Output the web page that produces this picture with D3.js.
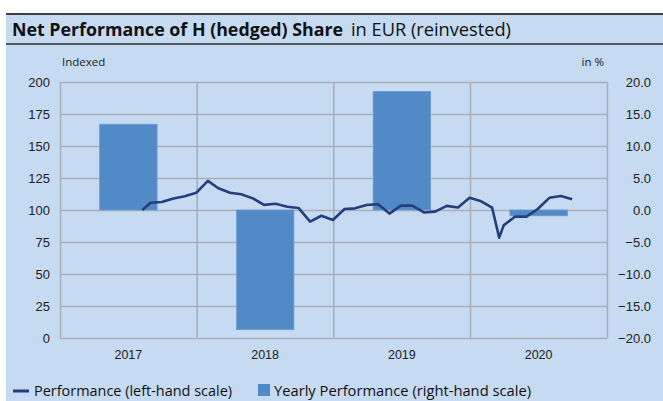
<!DOCTYPE html>
<html>
<head>
<meta charset="utf-8">
<script src="https://cdn.jsdelivr.net/npm/d3@7"></script>
<style>
  body { margin: 0; background: #fff; }
  svg { display: block; font-family: "Open Sans", "DejaVu Sans", sans-serif; }
  .graph-label { font-size: 11.5px; fill: #222; }
  .grid line { stroke: #a9afb8; stroke-width: 1.6; }
  .grid path { display: none; }
</style>
</head>
<body>
<svg></svg>
<script>
// Data
let years = ['2017', '2018', '2019', '2020']
let yearly_perf = [13.4, -18.7, 18.5, -0.9]

let perf_dates = [
  '2017-08-09', '2017-08-31', '2017-09-30', '2017-10-31', '2017-11-30', '2017-12-31',
  '2018-01-31', '2018-02-28', '2018-03-31', '2018-04-30', '2018-05-31', '2018-06-30',
  '2018-07-31', '2018-08-31', '2018-09-30', '2018-10-31', '2018-11-30', '2018-12-31',
  '2019-01-31', '2019-02-28', '2019-03-31', '2019-04-30', '2019-05-31', '2019-06-30',
  '2019-07-31', '2019-08-31', '2019-09-30', '2019-10-31', '2019-11-30', '2019-12-31',
  '2020-01-31', '2020-02-29', '2020-03-19', '2020-03-31', '2020-04-30', '2020-05-31',
  '2020-06-30', '2020-07-31', '2020-08-31', '2020-09-30'
]
let perf_values = [
  100, 105.7, 106.3, 109.0, 110.8, 113.5,
  122.8, 117.0, 113.5, 112.3, 109.1, 104.0,
  104.9, 102.6, 101.6, 90.9, 95.5, 92.2,
  100.8, 101.3, 103.9, 104.6, 97.2, 103.4,
  103.4, 98.1, 98.7, 103.2, 101.9, 109.5,
  106.8, 101.9, 78.4, 88.0, 94.8, 94.8,
  100.8, 109.5, 111.0, 108.4
]

let left_ticks = [0, 25, 50, 75, 100, 125, 150, 175, 200]
let right_ticks = [-20, -15, -10, -5, 0, 5, 10, 15, 20]

let dataset = perf_dates.map((d, i) => ({ date: new Date(d + 'T00:00:00'), value: perf_values[i] }))

// Dimensions
let width = 663
let height = 401
let plot = { left: 60, right: 607, top: 82, bottom: 338 }

let svg = d3.select('svg')
    .attr('width', width)
    .attr('height', height)

// Panel background
svg.append('rect')
    .attr('x', 6).attr('y', 13)
    .attr('width', width - 6).attr('height', height - 13)
    .attr('fill', '#c6daf1')

// Header borders
svg.append('line')
    .attr('x1', 6).attr('x2', width).attr('y1', 14).attr('y2', 14)
    .attr('stroke', '#3c3f45').attr('stroke-width', 2)
svg.append('line')
    .attr('x1', 6).attr('x2', width).attr('y1', 44).attr('y2', 44)
    .attr('stroke', '#55595f').attr('stroke-width', 2)

// Title
svg.append('text')
    .attr('x', 12).attr('y', 36)
    .attr('textLength', 331).attr('lengthAdjust', 'spacingAndGlyphs')
    .style('font-size', '18px').style('font-weight', 'bold').style('fill', '#111')
    .text('Net Performance of H (hedged) Share')
svg.append('text')
    .attr('x', 351).attr('y', 36)
    .attr('textLength', 160).attr('lengthAdjust', 'spacingAndGlyphs')
    .style('font-size', '18px').style('fill', '#111')
    .text('in EUR (reinvested)')

// Scales
let scale = {
  x: d3.scaleTime()
      .domain([new Date('2017-01-01T00:00:00'), new Date('2021-01-01T00:00:00')])
      .range([plot.left, plot.right]),
  band: d3.scaleBand()
      .domain(years)
      .range([plot.left, plot.right])
      .paddingInner(0.58)
      .paddingOuter(0.29),
  y: d3.scaleLinear().domain([0, 200]).range([plot.bottom, plot.top]),
  y2: d3.scaleLinear().domain([-20, 20]).range([plot.bottom, plot.top])
}

// Horizontal grid
svg.append('g')
    .attr('class', 'grid')
    .attr('transform', `translate(${plot.left},0)`)
    .call(d3.axisLeft(scale.y).tickValues(left_ticks).tickFormat('').tickSize(-(plot.right - plot.left)))

// Vertical grid at year boundaries
let bounds = years.map(y => new Date(+y, 0, 1)).concat([new Date(2021, 0, 1)])
svg.append('g')
    .attr('class', 'grid')
    .attr('transform', `translate(0,${plot.bottom})`)
    .call(d3.axisBottom(scale.x).tickValues(bounds).tickFormat('').tickSize(-(plot.bottom - plot.top)))

// Bars (right-hand scale)
svg.selectAll('.bar')
    .data(years)
    .enter()
    .append('rect')
    .attr('class', 'bar')
    .attr('x', d => scale.band(d))
    .attr('width', scale.band.bandwidth())
    .attr('y', (d, i) => scale.y2(Math.max(0, yearly_perf[i])))
    .attr('height', (d, i) => Math.abs(scale.y2(yearly_perf[i]) - scale.y2(0)))
    .attr('fill', '#518ac6')
    .attr('stroke', '#6b9bd0')
    .attr('stroke-width', 0.8)

// Performance line
let line = d3.line()
    .x(d => scale.x(d.date))
    .y(d => scale.y(d.value))

svg.append('path')
    .datum(dataset)
    .attr('d', line)
    .attr('fill', 'none')
    .attr('stroke', '#243f7e')
    .attr('stroke-width', 2.6)
    .attr('stroke-linejoin', 'round')

// Left axis labels
svg.append('g')
    .attr('transform', `translate(${plot.left},0)`)
    .call(d3.axisLeft(scale.y).tickValues(left_ticks).tickSize(0).tickPadding(10))
    .call(g => g.select('.domain').remove())
    .call(g => g.selectAll('text').style('font-size', '13px').attr('fill', '#222'))

// Right axis labels
svg.append('g')
    .attr('transform', `translate(${plot.right},0)`)
    .call(d3.axisRight(scale.y2).tickValues(right_ticks).tickSize(0).tickPadding(0).tickFormat(d3.format('.1f')))
    .call(g => g.select('.domain').remove())
    .call(g => g.selectAll('text').attr('text-anchor', 'end').attr('x', 44)
        .style('font-size', '13px').attr('fill', '#222'))

// Year labels
svg.append('g')
    .attr('transform', `translate(0,${plot.bottom})`)
    .call(d3.axisBottom(scale.band).tickSize(0).tickPadding(12))
    .call(g => g.select('.domain').remove())
    .call(g => g.selectAll('text').style('font-size', '12.5px').attr('fill', '#222'))

// Axis titles
svg.append('text')
    .attr('x', 62).attr('y', 66)
    .attr('class', 'graph-label')
    .text('Indexed')
svg.append('text')
    .attr('x', 604).attr('y', 66)
    .attr('text-anchor', 'end')
    .attr('class', 'graph-label')
    .text('in %')

// Legend
let legend = svg.append('g').attr('transform', 'translate(0,396)')
legend.append('line')
    .attr('x1', 13).attr('x2', 29).attr('y1', -5).attr('y2', -5)
    .attr('stroke', '#243f7e').attr('stroke-width', 3)
legend.append('text')
    .attr('x', 34).attr('y', 0)
    .attr('textLength', 198).attr('lengthAdjust', 'spacingAndGlyphs')
    .style('font-size', '15px').attr('fill', '#111')
    .text('Performance (left-hand scale)')
legend.append('rect')
    .attr('x', 258).attr('y', -12).attr('width', 12).attr('height', 12)
    .attr('fill', '#518ac6')
legend.append('text')
    .attr('x', 274).attr('y', 0)
    .attr('textLength', 257).attr('lengthAdjust', 'spacingAndGlyphs')
    .style('font-size', '15px').attr('fill', '#111')
    .text('Yearly Performance (right-hand scale)')
</script>
</body>
</html>
